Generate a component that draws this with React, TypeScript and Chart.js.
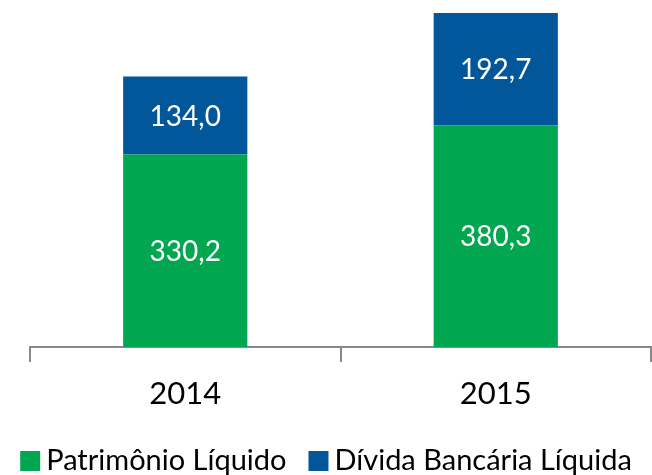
import React, { useEffect, useRef } from "react";
import { Chart, registerables } from "chart.js";

Chart.register(...registerables);

const categories = ["2014", "2015"];
const patrimonio = [330.2, 380.3];
const divida = [134.0, 192.7];
const seriesNames = ["Patrimônio Líquido", "Dívida Bancária Líquida"];
const seriesColors = ["#00A650", "#02569A"];

const FONT = "Lato, 'Open Sans', sans-serif";

const labelPlugin = {
  id: "segLabels",
  afterDatasetsDraw(chart: any) {
    const ctx = chart.ctx;
    ctx.save();
    ctx.fillStyle = "#ffffff";
    ctx.font = `28px ${FONT}`;
    ctx.textAlign = "center";
    ctx.textBaseline = "middle";
    chart.data.datasets.forEach((ds: any, di: number) => {
      const meta = chart.getDatasetMeta(di);
      meta.data.forEach((bar: any, i: number) => {
        const v = ds.data[i] as number;
        const y = (bar.y + bar.base) / 2;
        ctx.fillText(v.toFixed(1).replace(".", ","), bar.x, y + 1);
      });
    });
    ctx.restore();
  },
};

const legendPlugin = {
  id: "bottomLegend",
  afterDraw(chart: any) {
    const ctx = chart.ctx;
    ctx.save();
    ctx.font = `29px ${FONT}`;
    ctx.textBaseline = "middle";
    ctx.textAlign = "left";
    const box = 20;
    const gap = 6;
    const spacing = 22;
    const items = chart.data.datasets.map((ds: any) => ({
      text: ds.label as string,
      color: ds.backgroundColor as string,
      w: ctx.measureText(ds.label).width,
    }));
    const total =
      items.reduce((s: number, it: any) => s + box + gap + it.w, 0) +
      spacing * (items.length - 1);
    let x = (chart.width - total) / 2;
    const cy = 461;
    items.forEach((it: any) => {
      ctx.fillStyle = it.color;
      ctx.fillRect(x, cy - box / 2, box, box);
      x += box + gap;
      ctx.fillStyle = "#000000";
      ctx.fillText(it.text, x, cy);
      x += it.w + spacing;
    });
    ctx.restore();
  },
};

export default function App() {
  const ref = useRef<HTMLCanvasElement>(null);
  useEffect(() => {
    document.body.style.margin = "0";
    const chart = new Chart(ref.current!, {
      type: "bar",
      data: {
        labels: categories,
        datasets: [
          {
            label: seriesNames[0],
            data: patrimonio,
            backgroundColor: seriesColors[0],
            barPercentage: 0.4,
            categoryPercentage: 1,
          },
          {
            label: seriesNames[1],
            data: divida,
            backgroundColor: seriesColors[1],
            barPercentage: 0.4,
            categoryPercentage: 1,
          },
        ],
      },
      options: {
        animation: false,
        responsive: false,
        layout: { padding: { left: 30, right: 1, top: 13, bottom: 0 } },
        scales: {
          x: {
            stacked: true,
            offset: true,
            grid: {
              display: true,
              offset: true,
              drawOnChartArea: false,
              tickLength: 15,
              color: "#888888",
              lineWidth: 2,
            },
            border: { display: true, color: "#888888", width: 2 },
            ticks: {
              color: "#000000",
              font: { size: 31, family: FONT },
              padding: 13,
            },
            afterFit(scale: any) {
              scale.height = 128;
            },
          },
          y: {
            stacked: true,
            display: false,
            min: 0,
            max: 573,
          },
        },
        plugins: {
          tooltip: { enabled: false },
          legend: { display: false },
        },
      },
      plugins: [labelPlugin, legendPlugin],
    });
    return () => chart.destroy();
  }, []);
  return <canvas ref={ref} width={652} height={475} style={{ display: "block" }} />;
}
